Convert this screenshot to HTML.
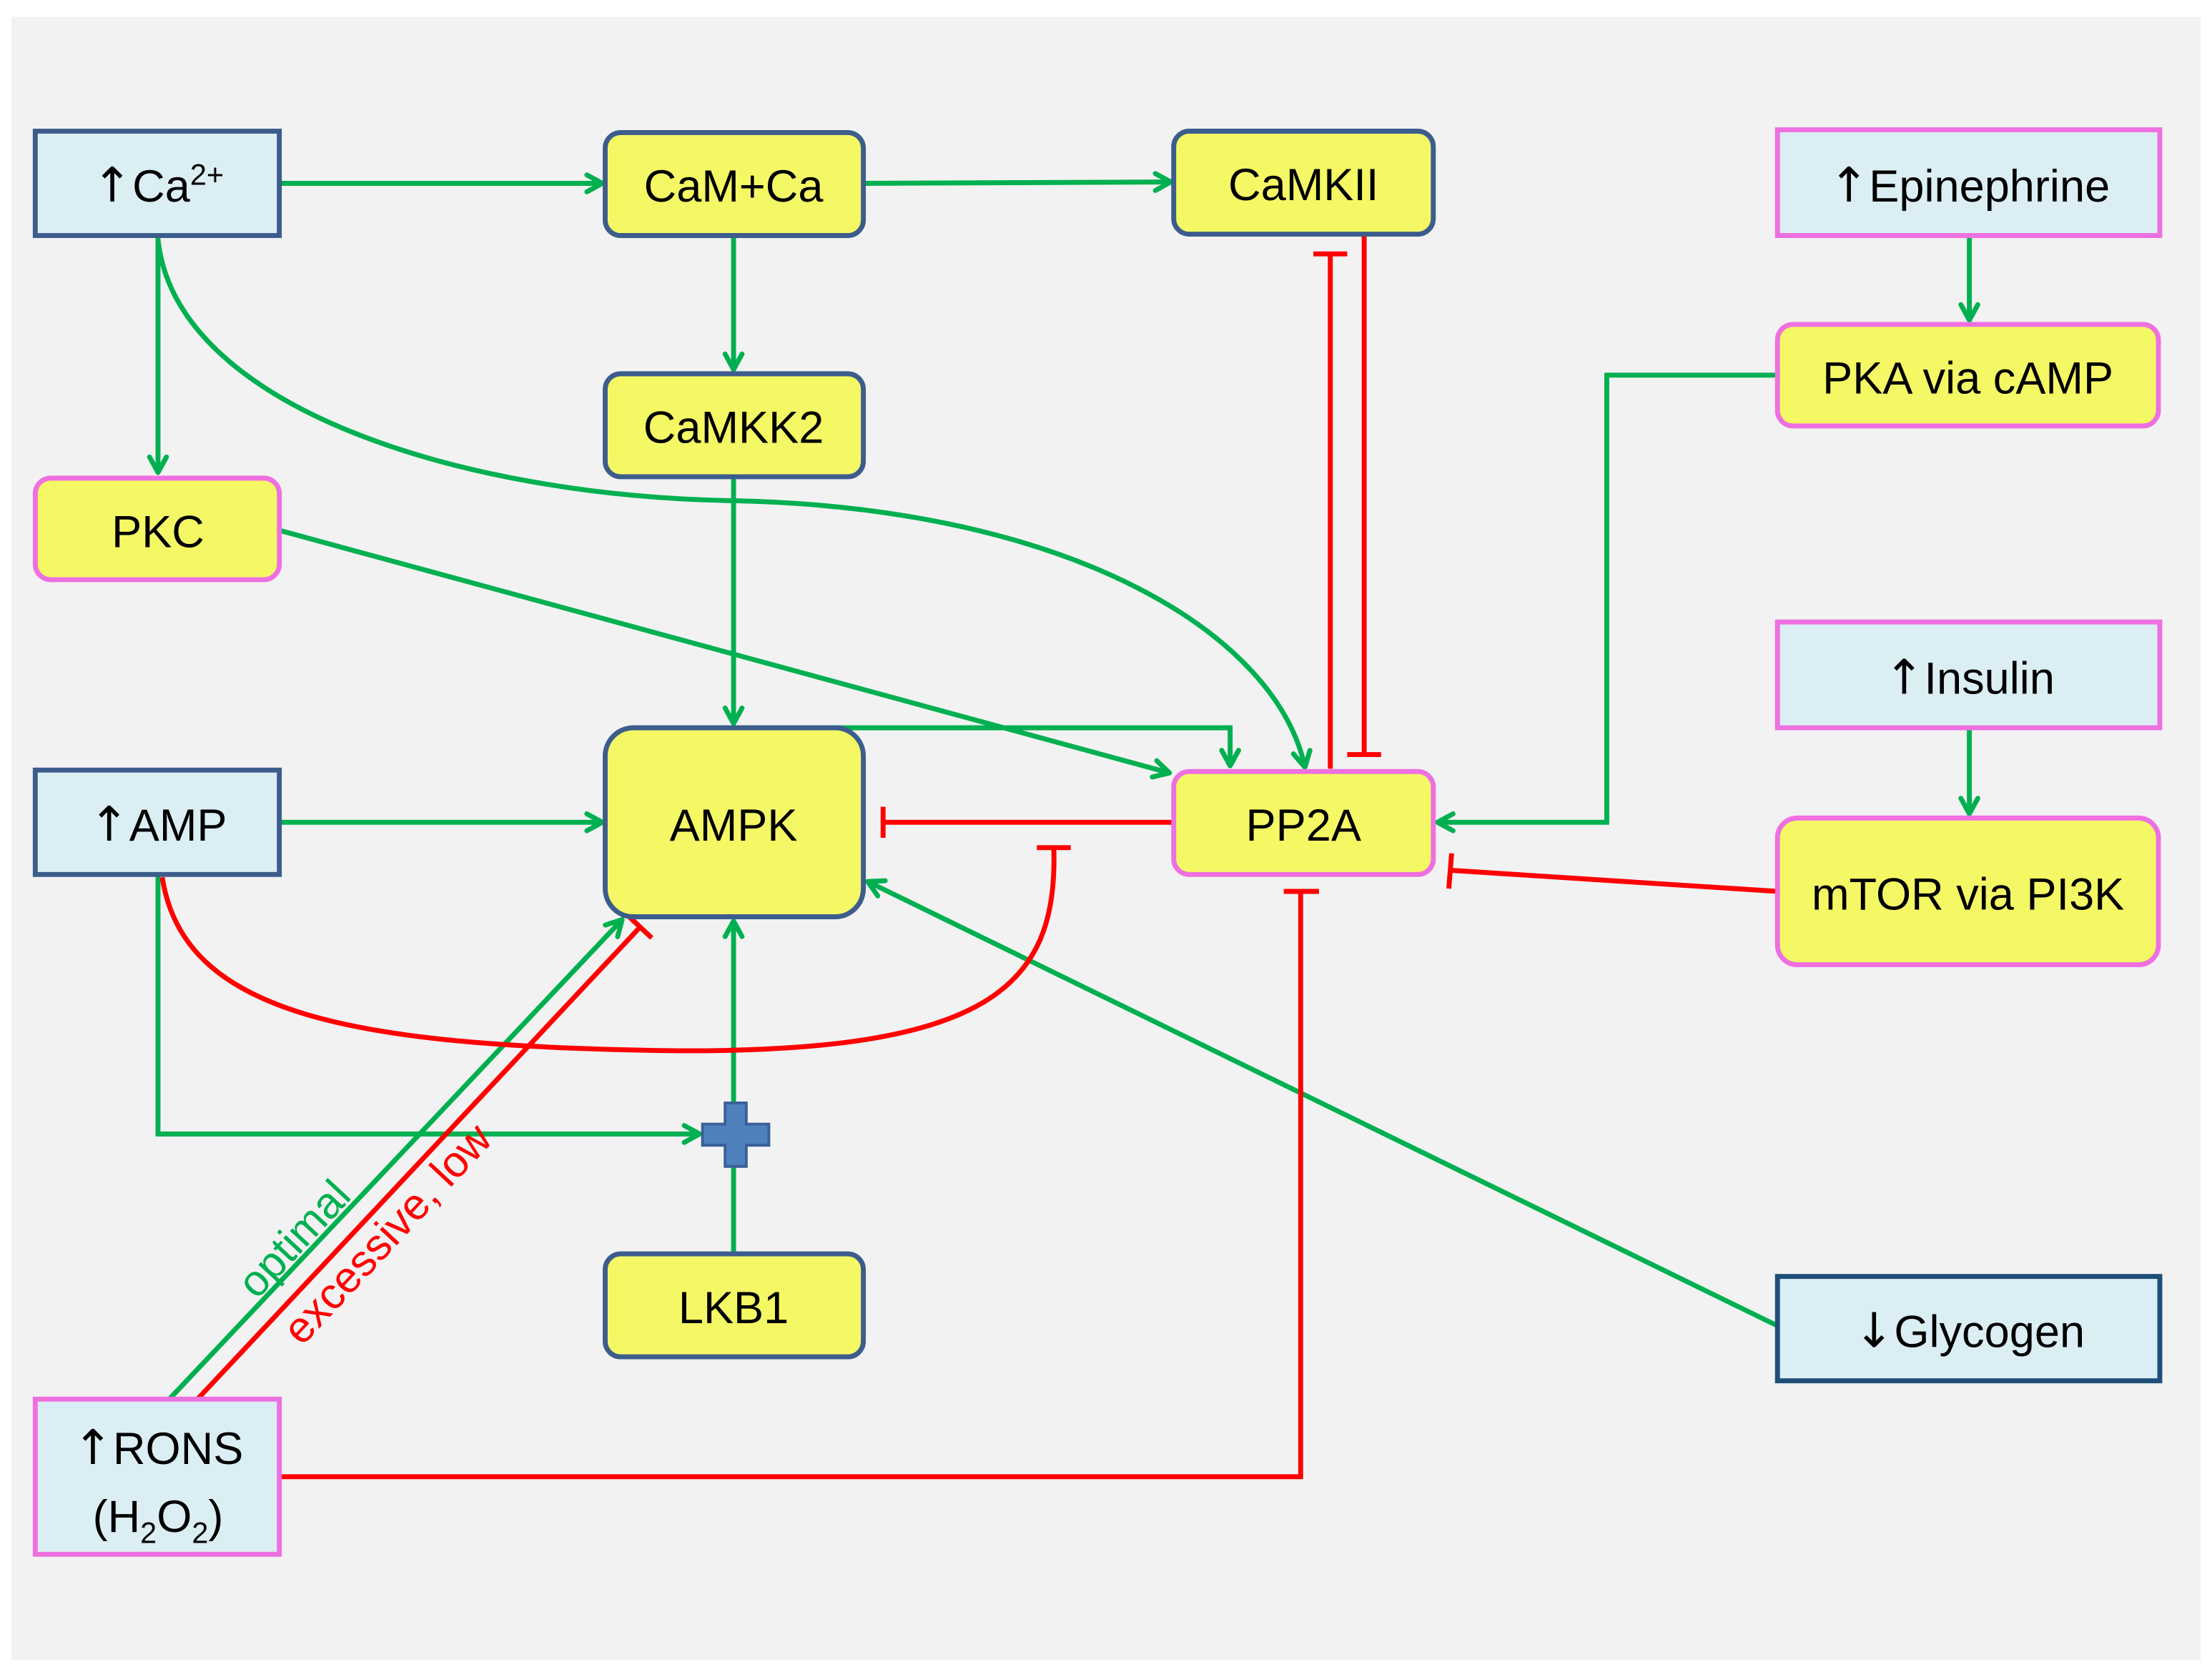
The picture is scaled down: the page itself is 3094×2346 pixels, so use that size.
<!DOCTYPE html>
<html><head><meta charset="utf-8"><style>html,body{margin:0;padding:0;background:#fff}svg{display:block}</style></head>
<body>
<svg width="3094" height="2346" viewBox="0 0 1568 1189" preserveAspectRatio="none" xmlns="http://www.w3.org/2000/svg" font-family="'Liberation Sans Narrow','Liberation Sans',sans-serif">
<defs>
<marker id="ga" markerWidth="14" markerHeight="14" refX="11" refY="6" orient="auto" markerUnits="userSpaceOnUse" viewBox="0 0 14 12" overflow="visible">
<path d="M0,0 L11,6 L0,12" fill="none" stroke="#00b050" stroke-width="3.5" stroke-linecap="round" stroke-linejoin="round"/>
</marker>
</defs>
<rect x="0" y="0" width="1568" height="1189" fill="#fff"/>
<rect x="8" y="12" width="1552" height="1165" fill="#f2f2f2"/>

<g fill="none" stroke="#00b050" stroke-width="3.5">
<line x1="198" y1="130" x2="427" y2="130" marker-end="url(#ga)"/>
<line x1="612" y1="130" x2="830" y2="129" marker-end="url(#ga)"/>
<line x1="520" y1="167" x2="520" y2="262" marker-end="url(#ga)"/>
<line x1="112" y1="167" x2="112" y2="335" marker-end="url(#ga)"/>
<path d="M112,170 C125,290 330,352 520,355 C760,360 905,450 925,544" marker-end="url(#ga)"/>
<line x1="520" y1="338" x2="520" y2="513" marker-end="url(#ga)"/>
<line x1="198" y1="376" x2="829" y2="548" marker-end="url(#ga)"/>
<polyline points="590,516 872,516 872,543" marker-end="url(#ga)"/>
<line x1="198" y1="583" x2="427" y2="583" marker-end="url(#ga)"/>
<polyline points="112,620 112,804 496,804" marker-end="url(#ga)"/>
<line x1="520" y1="889" x2="520" y2="790"/>
<line x1="520" y1="785" x2="520" y2="653" marker-end="url(#ga)"/>
<line x1="120" y1="992" x2="441" y2="652" marker-end="url(#ga)"/>
<line x1="1396" y1="167" x2="1396" y2="227" marker-end="url(#ga)"/>
<polyline points="1260,266 1139,266 1139,583 1019,583" marker-end="url(#ga)"/>
<line x1="1396" y1="516" x2="1396" y2="577" marker-end="url(#ga)"/>
<line x1="1260" y1="940" x2="615" y2="625" marker-end="url(#ga)"/>
</g>

<g fill="none" stroke="#ff0000" stroke-width="3.5">
<line x1="832" y1="583" x2="626" y2="583"/><line x1="626" y1="572" x2="626" y2="594"/>
<path d="M115,622 C130,720 250,742 480,745 C700,746 750,700 747,602"/><line x1="735" y1="601" x2="759" y2="601"/>
<line x1="140" y1="992" x2="454" y2="657"/><line x1="446" y1="650" x2="462" y2="665"/>
<polyline points="198,1047 922,1047 922,632"/><line x1="910" y1="632" x2="935" y2="632"/>
<line x1="943" y1="545" x2="943" y2="180"/><line x1="931" y1="180" x2="955" y2="180"/>
<line x1="967" y1="166" x2="967" y2="535"/><line x1="955" y1="535" x2="979" y2="535"/>
<line x1="1260" y1="632" x2="1028" y2="617"/><line x1="1029" y1="605" x2="1027" y2="630"/>
</g>

<path d="M514,782 h15 v15 h16 v15 h-16 v15 h-15 v-15 h-16 v-15 h16 z" fill="#4f81bd" stroke="#3a5f9a" stroke-width="2"/>

<g stroke-width="3.5">
<rect x="25" y="93" width="173" height="74" fill="#dbeef4" stroke="#3c5d8c"/>
<rect x="429" y="94" width="183" height="73" rx="11" fill="#f5f865" stroke="#3c5d8c"/>
<rect x="832" y="93" width="184" height="73" rx="11" fill="#f5f865" stroke="#3c5d8c"/>
<rect x="1260" y="92" width="271" height="75" fill="#dbeef4" stroke="#ee70e0"/>
<rect x="1260" y="230" width="270" height="72" rx="11" fill="#f5f865" stroke="#ee70e0"/>
<rect x="429" y="265" width="183" height="73" rx="11" fill="#f5f865" stroke="#3c5d8c"/>
<rect x="25" y="339" width="173" height="72" rx="11" fill="#f5f865" stroke="#ee70e0"/>
<rect x="1260" y="441" width="271" height="75" fill="#dbeef4" stroke="#ee70e0"/>
<rect x="429" y="516" width="183" height="134" rx="20" fill="#f5f865" stroke="#3c5d8c"/>
<rect x="25" y="546" width="173" height="74" fill="#dbeef4" stroke="#3c5d8c"/>
<rect x="832" y="547" width="184" height="73" rx="11" fill="#f5f865" stroke="#ee70e0"/>
<rect x="1260" y="580" width="270" height="104" rx="14" fill="#f5f865" stroke="#ee70e0"/>
<rect x="429" y="889" width="183" height="73" rx="11" fill="#f5f865" stroke="#3c5d8c"/>
<rect x="1260" y="905" width="271" height="74" fill="#dbeef4" stroke="#1f4e79"/>
<rect x="25" y="992" width="173" height="110" fill="#dbeef4" stroke="#ee70e0"/>
</g>

<g font-size="32" fill="#000" text-anchor="middle">
<text x="112" y="143"><tspan font-family="'DejaVu Sans',sans-serif" font-size="34">↑</tspan>Ca<tspan font-size="21" dy="-12">2+</tspan></text>
<text x="520" y="143">CaM+Ca</text>
<text x="924" y="142">CaMKII</text>
<text x="1396" y="143"><tspan font-family="'DejaVu Sans',sans-serif" font-size="34">↑</tspan>Epinephrine</text>
<text x="1395" y="279">PKA via cAMP</text>
<text x="520" y="314">CaMKK2</text>
<text x="112" y="388">PKC</text>
<text x="1396" y="492"><tspan font-family="'DejaVu Sans',sans-serif" font-size="34">↑</tspan>Insulin</text>
<text x="520" y="596">AMPK</text>
<text x="112" y="596"><tspan font-family="'DejaVu Sans',sans-serif" font-size="34">↑</tspan>AMP</text>
<text x="924" y="596">PP2A</text>
<text x="1395" y="645">mTOR via PI3K</text>
<text x="520" y="938">LKB1</text>
<text x="1396" y="955"><tspan font-family="'DejaVu Sans',sans-serif" font-size="34">↓</tspan>Glycogen</text>
<text x="112" y="1038"><tspan font-family="'DejaVu Sans',sans-serif" font-size="34">↑</tspan>RONS</text>
<text x="112" y="1086">(H<tspan font-size="21" dy="8">2</tspan><tspan dy="-8">O</tspan><tspan font-size="21" dy="8">2</tspan><tspan dy="-8">)</tspan></text>
</g>
<text x="0" y="0" font-size="31" fill="#00b050" transform="translate(182,922) rotate(-47)">optimal</text>
<text x="0" y="0" font-size="31" fill="#ff0000" transform="translate(214,955) rotate(-47)">excessive, low</text>
</svg>
</body></html>
